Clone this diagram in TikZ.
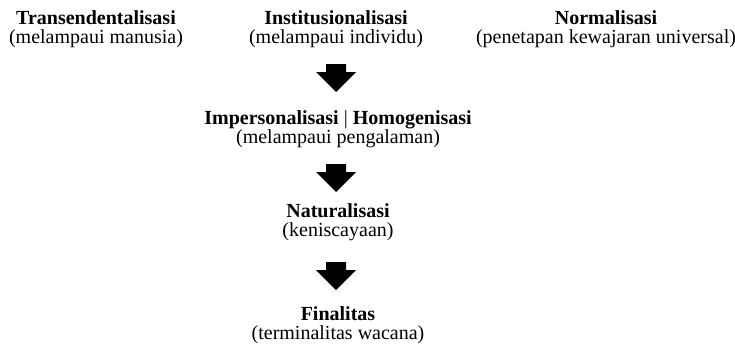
\documentclass[tikz,border=0pt]{standalone}
\usepackage{fontspec}
\setmainfont{Liberation Serif}
\begin{document}
\begin{tikzpicture}[x=1pt, y=1pt,
        title/.style={anchor=base, inner sep=0pt,
            font=\fontsize{20}{24}\selectfont\bfseries},
        gloss/.style={anchor=base, inner sep=0pt,
            font=\fontsize{20}{24}\selectfont},
        downarrow/.pic={
            \fill (-10,0) -- (10,0) -- (10,-8) -- (20,-8)
                -- (0,-28) -- (-20,-8) -- (-10,-8) -- cycle;
        }]
            \useasboundingbox (0,0) rectangle (735,-343);

            \foreach \n/\x/\y/\t/\g in {
                trans/96/24/Transendentalisasi/melampaui manusia,
                inst/336/24/Institusionalisasi/melampaui individu,
                norm/606/24/Normalisasi/penetapan kewajaran universal,
                imp/338/124/{Impersonalisasi \textmd{|} Homogenisasi}/melampaui pengalaman,
                nat/338/217/Naturalisasi/keniscayaan,
                fin/338/320/Finalitas/terminalitas wacana%
            } {
                \node[title] (\n) at (\x, -\y) {\t};
                \node[gloss] (\n-g) at (\x, -\y-19.5) {(\g)};
            }

            \foreach \y in {64, 164, 262} {
                \pic at (336, -\y) {downarrow};
            }
        \end{tikzpicture}
\end{document}
